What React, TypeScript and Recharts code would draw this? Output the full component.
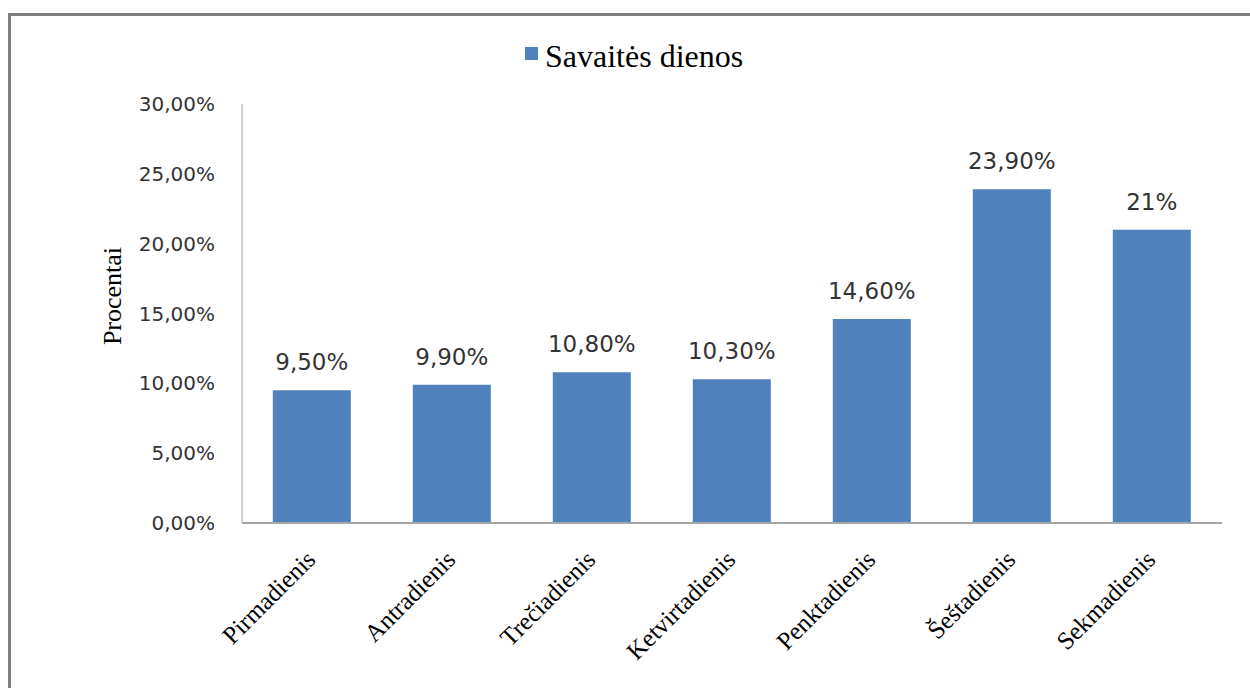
import React from 'react';
import { BarChart, Bar, XAxis, YAxis, LabelList, Legend, Label } from 'recharts';

const categories = ['Pirmadienis', 'Antradienis', 'Trečiadienis', 'Ketvirtadienis', 'Penktadienis', 'Šeštadienis', 'Sekmadienis'];
const values = [9.5, 9.9, 10.8, 10.3, 14.6, 23.9, 21];
const valueLabels = ['9,50%', '9,90%', '10,80%', '10,30%', '14,60%', '23,90%', '21%'];
const yTicks = [0, 5, 10, 15, 20, 25, 30];
const seriesName = 'Savaitės dienos';
const yAxisTitle = 'Procentai';

const data = categories.map((c, i) => ({ name: c, value: values[i], label: valueLabels[i] }));

const BAR_COLOR = '#4F81BD';
const SERIF = 'Liberation Serif, Times New Roman, serif';

const XTick = (props: any) => {
  const { x, y, payload } = props;
  const ax = x + 5;
  const ay = y + 30;
  return (
    <text
      x={ax}
      y={ay}
      transform={`rotate(-45, ${ax}, ${ay})`}
      textAnchor="end"
      fontFamily={SERIF}
      fontSize={25}
      fill="#000"
    >
      {payload.value}
    </text>
  );
};

const LegendContent = () => (
  <svg width={1250} height={56} style={{ display: 'block', overflow: 'visible' }}>
    <rect x={525} y={14} width={13} height={13} fill={BAR_COLOR} />
    <text x={545} y={34} fontFamily={SERIF} fontSize={32} fill="#000">
      {seriesName}
    </text>
  </svg>
);

const YTitle = () => {
  const cx = 121;
  const cy = 296;
  return (
    <text
      x={cx}
      y={cy}
      transform={`rotate(-90, ${cx}, ${cy})`}
      textAnchor="middle"
      fontFamily={SERIF}
      fontSize={26}
      fill="#000"
    >
      {yAxisTitle}
    </text>
  );
};

export default function App() {
  return (
    <div style={{ position: 'absolute', left: 0, top: 0, width: 1250, height: 688, background: '#fff', overflow: 'hidden' }}>
      <div
        style={{
          position: 'absolute',
          left: 8,
          top: 13,
          width: 1260,
          height: 700,
          borderLeft: '3px solid #808080',
          borderTop: '3px solid #808080',
          boxSizing: 'border-box',
        }}
      />
      <BarChart
        width={1250}
        height={688}
        data={data}
        margin={{ top: 104, right: 28, bottom: 0, left: 0 }}
        barCategoryGap="22%"
      >
        <XAxis
          dataKey="name"
          tick={<XTick />}
          tickLine={false}
          axisLine={{ stroke: '#A6A6A6', strokeWidth: 2 }}
          interval={0}
          height={165}
        />
        <YAxis
          width={242}
          domain={[0, 30]}
          ticks={yTicks}
          tickLine={false}
          tickSize={0}
          tickMargin={27}
          axisLine={{ stroke: '#BFBFBF', strokeWidth: 1.5 }}
          tick={{ fontFamily: 'DejaVu Sans, sans-serif', fontSize: 20, fill: '#333' }}
          tickFormatter={(v: number) => v.toFixed(2).replace('.', ',') + '%'}
        >
          <Label content={<YTitle />} />
        </YAxis>
        <Legend
          layout="horizontal"
          verticalAlign="middle"
          align="center"
          content={<LegendContent />}
          wrapperStyle={{ top: 33, left: 0, width: 1250 }}
        />
        <Bar dataKey="value" name={seriesName} fill={BAR_COLOR} isAnimationActive={false}>
          <LabelList
            dataKey="label"
            position="top"
            offset={20}
            style={{ fontFamily: 'DejaVu Sans, sans-serif', fontSize: 23, fill: '#333' }}
          />
        </Bar>
      </BarChart>
    </div>
  );
}
